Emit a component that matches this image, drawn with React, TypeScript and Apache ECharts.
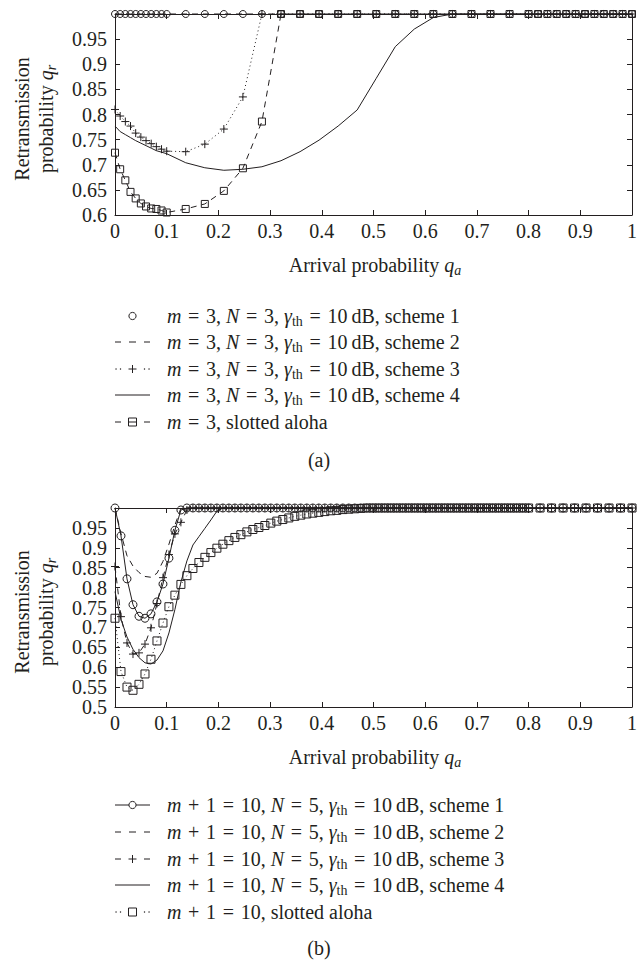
import React, { useEffect, useRef } from "react";
import * as echarts from "echarts";

// ---------- Panel (a) ----------
const X_A = [
  0, 0.01, 0.02, 0.03, 0.04, 0.05, 0.06, 0.07, 0.08, 0.09, 0.1,
  0.1368, 0.1737, 0.2105, 0.2474, 0.2842, 0.3211, 0.3579, 0.3947, 0.4316, 0.4684,
  0.5053, 0.5421, 0.5789, 0.6158, 0.6526, 0.6895, 0.7263, 0.7632, 0.8,
  0.8182, 0.8364, 0.8545, 0.8727, 0.8909, 0.9091, 0.9273, 0.9455, 0.9636, 0.9818, 1,
];
const A_SCHEME1 = [
  1, 1, 1, 1, 1, 1, 1, 1, 1, 1, 1,
  1, 1, 1, 1, 1, 1, 1, 1, 1, 1,
  1, 1, 1, 1, 1, 1, 1, 1, 1,
  1, 1, 1, 1, 1, 1, 1, 1, 1, 1, 1,
];
const A_SCHEME2 = [
  1, 1, 1, 1, 1, 1, 1, 1, 1, 1, 1,
  1, 1, 1, 1, 1, 1, 1, 1, 1, 1,
  1, 1, 1, 1, 1, 1, 1, 1, 1,
  1, 1, 1, 1, 1, 1, 1, 1, 1, 1, 1,
];
const A_SCHEME3 = [
  0.81, 0.797, 0.786, 0.777, 0.763, 0.755, 0.748, 0.742, 0.736, 0.731, 0.727,
  0.726, 0.741, 0.771, 0.835, 1, 1, 1, 1, 1, 1,
  1, 1, 1, 1, 1, 1, 1, 1, 1,
  1, 1, 1, 1, 1, 1, 1, 1, 1, 1, 1,
];
const A_SCHEME4 = [
  0.777, 0.766, 0.76, 0.754, 0.748, 0.743, 0.738, 0.733, 0.728, 0.725, 0.722,
  0.704, 0.694, 0.689, 0.691, 0.696, 0.708, 0.726, 0.749, 0.777, 0.809,
  0.872, 0.935, 0.97, 0.993, 1, 1, 1, 1, 1,
  1, 1, 1, 1, 1, 1, 1, 1, 1, 1, 1,
];
const A_ALOHA = [
  0.724, 0.691, 0.669, 0.646, 0.633, 0.623, 0.617, 0.613, 0.612, 0.609, 0.605,
  0.612, 0.622, 0.648, 0.693, 0.786, 1, 1, 1, 1, 1,
  1, 1, 1, 1, 1, 1, 1, 1, 1,
  1, 1, 1, 1, 1, 1, 1, 1, 1, 1, 1,
];

// ---------- Panel (b) ----------
const X_B = [
  0, 0.0116, 0.0232, 0.0348, 0.0464, 0.058, 0.0696, 0.0812, 0.0928, 0.1043,
  0.1159, 0.1275, 0.1391, 0.1507, 0.1623, 0.1739, 0.1855, 0.1971, 0.2087, 0.2203,
  0.2319, 0.2435, 0.2551, 0.2667, 0.2783, 0.2899, 0.3014, 0.313, 0.3246, 0.3362,
  0.3478, 0.3594, 0.371, 0.3826, 0.3942, 0.4058, 0.4174, 0.429, 0.4406, 0.4522,
  0.4638, 0.4754, 0.487, 0.4986, 0.5101, 0.5217, 0.5333, 0.5449, 0.5565, 0.5681,
  0.5797, 0.5913, 0.6029, 0.6145, 0.6261, 0.6377, 0.6493, 0.6609, 0.6725, 0.6841,
  0.6957, 0.7072, 0.7188, 0.7304, 0.742, 0.7536, 0.7652, 0.7768, 0.7884, 0.8,
  0.8222, 0.8444, 0.8667, 0.8889, 0.9111, 0.9333, 0.9556, 0.9778, 1,
];
const B_SCHEME1 = [
  1, 0.93, 0.822, 0.757, 0.728, 0.723, 0.734, 0.764, 0.809, 0.874,
  0.944, 0.995, 1, 1, 1, 1, 1, 1, 1, 1,
  1, 1, 1, 1, 1, 1, 1, 1, 1, 1,
  1, 1, 1, 1, 1, 1, 1, 1, 1, 1,
  1, 1, 1, 1, 1, 1, 1, 1, 1, 1,
  1, 1, 1, 1, 1, 1, 1, 1, 1, 1,
  1, 1, 1, 1, 1, 1, 1, 1, 1, 1,
  1, 1, 1, 1, 1, 1, 1, 1, 1,
];
const B_SCHEME2 = [
  1, 0.936, 0.88, 0.854, 0.838, 0.828, 0.826, 0.836, 0.866, 0.909,
  0.957, 1, 1, 1, 1, 1, 1, 1, 1, 1,
  1, 1, 1, 1, 1, 1, 1, 1, 1, 1,
  1, 1, 1, 1, 1, 1, 1, 1, 1, 1,
  1, 1, 1, 1, 1, 1, 1, 1, 1, 1,
  1, 1, 1, 1, 1, 1, 1, 1, 1, 1,
  1, 1, 1, 1, 1, 1, 1, 1, 1, 1,
  1, 1, 1, 1, 1, 1, 1, 1, 1,
];
const B_SCHEME3 = [
  0.853, 0.727, 0.661, 0.633, 0.636, 0.658, 0.699, 0.76, 0.825, 0.883,
  0.935, 0.964, 0.995, 1, 1, 1, 1, 1, 1, 1,
  1, 1, 1, 1, 1, 1, 1, 1, 1, 1,
  1, 1, 1, 1, 1, 1, 1, 1, 1, 1,
  1, 1, 1, 1, 1, 1, 1, 1, 1, 1,
  1, 1, 1, 1, 1, 1, 1, 1, 1, 1,
  1, 1, 1, 1, 1, 1, 1, 1, 1, 1,
  1, 1, 1, 1, 1, 1, 1, 1, 1,
];
const B_SCHEME4 = [
  0.79, 0.72, 0.676, 0.645, 0.624, 0.611, 0.608, 0.618, 0.641, 0.686,
  0.745, 0.814, 0.867, 0.907, 0.928, 0.949, 0.97, 0.992, 1, 1,
  1, 1, 1, 1, 1, 1, 1, 1, 1, 1,
  1, 1, 1, 1, 1, 1, 1, 1, 1, 1,
  1, 1, 1, 1, 1, 1, 1, 1, 1, 1,
  1, 1, 1, 1, 1, 1, 1, 1, 1, 1,
  1, 1, 1, 1, 1, 1, 1, 1, 1, 1,
  1, 1, 1, 1, 1, 1, 1, 1, 1,
];
const B_ALOHA = [
  0.723, 0.589, 0.55, 0.542, 0.557, 0.583, 0.62, 0.666, 0.711, 0.752,
  0.781, 0.808, 0.83, 0.848, 0.863, 0.876, 0.888, 0.899, 0.909, 0.918,
  0.926, 0.933, 0.94, 0.946, 0.951, 0.956, 0.962, 0.967, 0.971, 0.975,
  0.979, 0.982, 0.985, 0.987, 0.989, 0.991, 0.993, 0.994, 0.996, 0.997,
  0.998, 0.999, 1, 1, 1, 1, 1, 1, 1, 1,
  1, 1, 1, 1, 1, 1, 1, 1, 1, 1,
  1, 1, 1, 1, 1, 1, 1, 1, 1, 1,
  1, 1, 1, 1, 1, 1, 1, 1, 1,
];

const SP = "\u2004"; // math spacing around relations
const LEGEND_A = [
  `{i|m}${SP}=${SP}3, {i|N}${SP}=${SP}3, {i|γ}{s|th}${SP}=${SP}10\u2009dB, scheme 1`,
  `{i|m}${SP}=${SP}3, {i|N}${SP}=${SP}3, {i|γ}{s|th}${SP}=${SP}10\u2009dB, scheme 2`,
  `{i|m}${SP}=${SP}3, {i|N}${SP}=${SP}3, {i|γ}{s|th}${SP}=${SP}10\u2009dB, scheme 3`,
  `{i|m}${SP}=${SP}3, {i|N}${SP}=${SP}3, {i|γ}{s|th}${SP}=${SP}10\u2009dB, scheme 4`,
  `{i|m}${SP}=${SP}3, slotted aloha`,
];
const LEGEND_B = [
  `{i|m}${SP}+${SP}1${SP}=${SP}10, {i|N}${SP}=${SP}5, {i|γ}{s|th}${SP}=${SP}10\u2009dB, scheme 1`,
  `{i|m}${SP}+${SP}1${SP}=${SP}10, {i|N}${SP}=${SP}5, {i|γ}{s|th}${SP}=${SP}10\u2009dB, scheme 2`,
  `{i|m}${SP}+${SP}1${SP}=${SP}10, {i|N}${SP}=${SP}5, {i|γ}{s|th}${SP}=${SP}10\u2009dB, scheme 3`,
  `{i|m}${SP}+${SP}1${SP}=${SP}10, {i|N}${SP}=${SP}5, {i|γ}{s|th}${SP}=${SP}10\u2009dB, scheme 4`,
  `{i|m}${SP}+${SP}1${SP}=${SP}10, slotted aloha`,
];

const INK = "#231f20";
const FONT = "'Liberation Serif', 'DejaVu Serif', serif";
const FS = 20;
const PLUS = "path://M5,0L5,10M0,5L10,5";
const DASH = [6, 5];
const DOT = [1, 3];

const RICH: any = {
  i: { fontStyle: "italic", fontFamily: FONT, fontSize: FS, fill: INK },
  s: { fontFamily: FONT, fontSize: 14, fill: INK, verticalAlign: "bottom", lineHeight: 14 },
  si: { fontFamily: FONT, fontStyle: "italic", fontSize: 14, fill: INK, verticalAlign: "bottom", lineHeight: 14 },
};

function mkSeries(gi: number, xs: number[], ys: number[], lineType: any, symbol: string | null, size: number) {
  return {
    type: "line",
    xAxisIndex: gi * 2,
    yAxisIndex: gi * 2,
    data: xs.map((x, i) => [x, ys[i]]),
    symbol: symbol || "none",
    symbolSize: size,
    showSymbol: !!symbol,
    clip: false,
    silent: true,
    animation: false,
    lineStyle:
      lineType === null
        ? { opacity: 0, width: 0 }
        : { color: INK, width: 1, type: lineType },
    itemStyle: { color: "rgba(0,0,0,0)", borderColor: INK, borderWidth: 1 },
    emphasis: { disabled: true },
  };
}

function axes(gi: number, yMin: number) {
  const axisLine = { show: true, onZero: false, lineStyle: { color: INK, width: 1 } };
  const axisTick = { show: true, inside: true, length: 5, lineStyle: { color: INK, width: 1 } };
  const label = { color: INK, fontFamily: FONT, fontSize: FS };
  const x = [
    {
      gridIndex: gi, type: "value", min: 0, max: 1, interval: 0.1, position: "bottom",
      axisLine, axisTick, splitLine: { show: false },
      axisLabel: { ...label, margin: 6, formatter: (v: number) => String(Math.round(v * 10) / 10) },
    },
    {
      gridIndex: gi, type: "value", min: 0, max: 1, interval: 0.1, position: "top",
      axisLine, axisTick, splitLine: { show: false }, axisLabel: { show: false },
    },
  ];
  const y = [
    {
      gridIndex: gi, type: "value", min: yMin, max: 1, interval: 0.05, position: "left",
      axisLine, axisTick, splitLine: { show: false },
      axisLabel: {
        ...label, margin: 8,
        formatter: (v: number) => (v > 0.999 ? "" : String(Math.round(v * 100) / 100)),
      },
    },
    {
      gridIndex: gi, type: "value", min: yMin, max: 1, interval: 0.05, position: "right",
      axisLine, axisTick, splitLine: { show: false }, axisLabel: { show: false },
    },
  ];
  return { x, y };
}

// legend drawing helpers
const LX0 = 115;
const LX1 = 150;
const LXM = 132.5;
const TX = 167;

function seg(x1: number, x2: number, y: number) {
  return { type: "line", silent: true, shape: { x1, y1: y, x2, y2: y }, style: { stroke: INK, lineWidth: 1 } };
}
function dot(x: number, y: number) {
  return { type: "circle", silent: true, shape: { cx: x, cy: y, r: 0.7 }, style: { fill: INK } };
}
function circ(x: number, y: number) {
  return { type: "circle", silent: true, shape: { cx: x, cy: y, r: 3.6 }, style: { fill: "#fff", stroke: INK, lineWidth: 1 } };
}
function sq(x: number, y: number) {
  return { type: "rect", silent: true, shape: { x: x - 4, y: y - 4, width: 8, height: 8 }, style: { fill: "#fff", stroke: INK, lineWidth: 1 } };
}
function plus(x: number, y: number) {
  return [seg(x - 4, x + 4, y), { type: "line", silent: true, shape: { x1: x, y1: y - 4, x2: x, y2: y + 4 }, style: { stroke: INK, lineWidth: 1 } }];
}
function txt(x: number, y: number, text: string, extra: any = {}) {
  return {
    type: "text", silent: true, x, y, ...extra,
    style: {
      text, rich: RICH, fontFamily: FONT, fontSize: FS, fill: INK,
      align: extra.align || "left", verticalAlign: "middle", lineHeight: 24,
    },
  };
}

function buildGraphic() {
  const g: any[] = [];
  const ya = [316, 342, 369, 395, 422];
  const yb = [805, 832, 859, 885, 912];
  // legend (a)
  g.push(circ(LXM, ya[0]));
  g.push(seg(115, 121, ya[1]), seg(129, 136, ya[1]), seg(144, 150, ya[1]));
  g.push(dot(116, ya[2]), dot(120.5, ya[2]), ...plus(LXM, ya[2]), dot(144.5, ya[2]), dot(149, ya[2]));
  g.push(seg(LX0, LX1, ya[3]));
  g.push(seg(115, 121, ya[4]), sq(LXM, ya[4]), seg(128.5, 136.5, ya[4]), seg(144, 150, ya[4]));
  LEGEND_A.forEach((t, i) => g.push(txt(TX, ya[i], t)));
  // legend (b)
  g.push(seg(LX0, LX1, yb[0]), circ(LXM, yb[0]));
  g.push(seg(115, 121, yb[1]), seg(129, 136, yb[1]), seg(144, 150, yb[1]));
  g.push(seg(115, 121, yb[2]), ...plus(LXM, yb[2]), seg(144, 150, yb[2]));
  g.push(seg(LX0, LX1, yb[3]));
  g.push(dot(116, yb[4]), dot(120.5, yb[4]), sq(LXM, yb[4]), dot(144.5, yb[4]), dot(149, yb[4]));
  LEGEND_B.forEach((t, i) => g.push(txt(TX, yb[i], t)));
  // captions
  g.push(txt(319, 460, "(a)", { align: "center" }));
  g.push(txt(319, 948, "(b)", { align: "center" }));
  // axis names
  const xName = "Arrival probability {i|q}{si|a}";
  g.push(txt(375, 265, xName, { align: "center" }));
  g.push(txt(375, 757, xName, { align: "center" }));
  const yName = "Retransmission\nprobability {i|q}{si|r}";
  g.push(txt(34, 119, yName, { align: "center", rotation: Math.PI / 2 }));
  g.push(txt(34, 612, yName, { align: "center", rotation: Math.PI / 2 }));
  return g;
}

function buildOption() {
  const a = axes(0, 0.6);
  const b = axes(1, 0.5);
  return {
    animation: false,
    backgroundColor: "#fff",
    grid: [
      { left: 115, top: 14, width: 521, height: 201 },
      { left: 115, top: 508, width: 521, height: 199 },
    ],
    xAxis: [...a.x, ...b.x],
    yAxis: [...a.y, ...b.y],
    series: [
      mkSeries(0, X_A, A_SCHEME1, null, "circle", 7),
      mkSeries(0, X_A, A_SCHEME2, DASH, null, 0),
      mkSeries(0, X_A, A_SCHEME3, DOT, PLUS, 8),
      mkSeries(0, X_A, A_SCHEME4, "solid", null, 0),
      mkSeries(0, X_A, A_ALOHA, DASH, "rect", 7),
      mkSeries(1, X_B, B_SCHEME1, "solid", "circle", 8),
      mkSeries(1, X_B, B_SCHEME2, DASH, null, 0),
      mkSeries(1, X_B, B_SCHEME3, DASH, PLUS, 8),
      mkSeries(1, X_B, B_SCHEME4, "solid", null, 0),
      mkSeries(1, X_B, B_ALOHA, DOT, "rect", 8),
    ],
    graphic: buildGraphic(),
  };
}

export default function App() {
  const ref = useRef<HTMLDivElement>(null);
  useEffect(() => {
    const chart = echarts.init(ref.current!, null, { renderer: "svg" });
    chart.setOption(buildOption() as any);
    return () => chart.dispose();
  }, []);
  return (
    <div
      ref={ref}
      style={{ position: "absolute", left: 0, top: 0, width: 640, height: 960, background: "#fff" }}
    />
  );
}
